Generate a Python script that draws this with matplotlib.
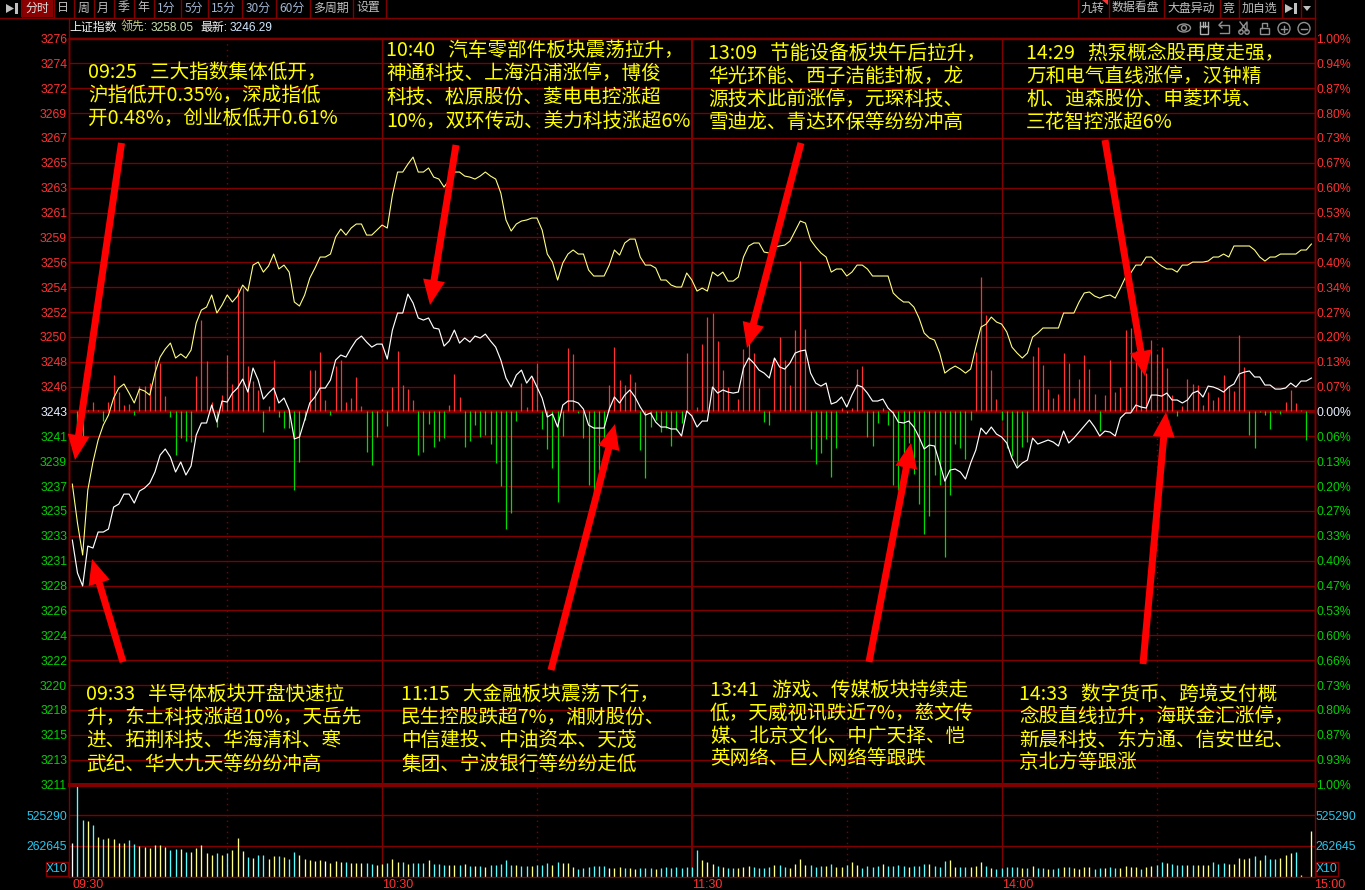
import matplotlib
matplotlib.use('Agg')
import matplotlib.pyplot as plt
from matplotlib.patches import Rectangle, Circle, Ellipse, Polygon

plt.rcParams['font.family'] = ['Noto Sans CJK SC', 'DejaVu Sans']

# 上证指数 分时 (index = minutes since 09:30)
prev_close = 3243.0
close_span = 32.43

lead_line = [
    3236.69, 3233.30, 3230.52, 3236.17, 3238.61, 3240.52, 3241.82, 3242.69, 3244.17, 3245.04,
    3245.39, 3244.60, 3243.74, 3244.95, 3244.78, 3244.43, 3246.34, 3247.73, 3248.43, 3248.95,
    3247.65, 3248.00, 3247.65, 3248.34, 3250.69, 3251.82, 3252.08, 3253.13, 3251.56, 3252.26,
    3253.13, 3252.52, 3253.04, 3253.99, 3253.47, 3255.73, 3255.99, 3255.12, 3255.65, 3256.69,
    3255.39, 3255.73, 3255.12, 3252.52, 3252.17, 3253.13, 3254.60, 3255.47, 3256.43, 3256.43,
    3256.69, 3258.17, 3258.86, 3258.34, 3258.95, 3259.30, 3259.30, 3258.34, 3258.34, 3258.78,
    3259.21, 3258.95, 3261.82, 3263.82, 3263.82, 3264.51, 3265.12, 3263.82, 3263.82, 3264.17,
    3263.38, 3263.21, 3262.51, 3263.12, 3263.82, 3263.82, 3263.47, 3263.38, 3263.21, 3263.47,
    3263.82, 3263.47, 3263.21, 3261.99, 3259.65, 3258.69, 3259.30, 3259.56, 3259.65, 3259.82,
    3259.82, 3258.78, 3256.69, 3255.99, 3254.43, 3255.91, 3256.69, 3257.04, 3256.69, 3256.69,
    3255.30, 3254.78, 3254.78, 3254.78, 3255.73, 3257.04, 3256.60, 3257.65, 3257.99, 3257.99,
    3256.43, 3255.73, 3255.73, 3255.47, 3254.43, 3254.43, 3253.99, 3253.82, 3253.82, 3255.04,
    3254.43, 3253.47, 3253.73, 3253.47, 3255.12, 3254.78, 3255.12, 3254.34, 3254.34, 3254.69,
    3256.43, 3257.39, 3257.65, 3257.65, 3256.86, 3256.78, 3257.30, 3257.39, 3257.47, 3257.82,
    3258.69, 3259.56, 3259.38, 3257.91, 3257.30, 3256.78, 3256.43, 3255.12, 3255.39, 3255.39,
    3254.78, 3255.12, 3255.73, 3255.73, 3255.39, 3254.78, 3254.78, 3254.78, 3254.78, 3253.30,
    3252.86, 3252.52, 3252.52, 3252.08, 3251.13, 3249.82, 3249.39, 3249.21, 3248.08, 3246.34,
    3246.69, 3246.95, 3246.69, 3246.34, 3246.69, 3248.60, 3250.34, 3250.60, 3251.21, 3250.78,
    3250.60, 3249.91, 3248.60, 3248.08, 3247.65, 3248.08, 3249.47, 3249.82, 3250.26, 3250.26,
    3250.26, 3250.26, 3251.56, 3251.56, 3251.56, 3252.52, 3253.30, 3253.39, 3253.04, 3252.86,
    3253.04, 3253.13, 3252.86, 3253.73, 3254.69, 3255.04, 3255.73, 3255.73, 3256.43, 3256.43,
    3255.99, 3255.65, 3255.39, 3255.39, 3255.12, 3255.73, 3255.73, 3255.99, 3255.99, 3255.99,
    3256.08, 3256.43, 3256.43, 3256.69, 3256.43, 3257.39, 3257.39, 3257.39, 3257.39, 3257.04,
    3256.43, 3256.08, 3256.43, 3256.43, 3256.69, 3256.69, 3256.69, 3256.69, 3257.04, 3257.04,
    3257.56,
]

price_line = [
    3231.82, 3228.96, 3227.83, 3231.30, 3231.13, 3232.52, 3232.52, 3232.78, 3234.69, 3234.95,
    3235.82, 3235.82, 3235.04, 3236.08, 3236.35, 3236.78, 3237.74, 3239.21, 3239.74, 3239.04,
    3237.74, 3238.61, 3237.48, 3238.26, 3240.95, 3242.00, 3242.00, 3243.56, 3242.08, 3243.91,
    3243.82, 3244.60, 3245.04, 3245.82, 3244.69, 3246.78, 3245.74, 3244.08, 3244.60, 3245.04,
    3243.74, 3244.17, 3243.13, 3240.61, 3240.78, 3242.26, 3243.74, 3244.26, 3245.04, 3245.04,
    3245.74, 3247.47, 3247.91, 3247.73, 3248.52, 3249.21, 3249.56, 3249.04, 3248.60, 3248.86,
    3248.86, 3247.56, 3250.08, 3251.56, 3251.56, 3253.21, 3252.43, 3251.13, 3250.95, 3251.13,
    3250.26, 3250.17, 3248.69, 3249.13, 3250.08, 3248.95, 3249.39, 3249.04, 3249.56, 3249.39,
    3249.73, 3249.13, 3248.60, 3247.47, 3245.91, 3245.13, 3246.17, 3246.60, 3245.47, 3246.08,
    3245.13, 3244.17, 3242.52, 3242.78, 3241.65, 3243.56, 3243.91, 3243.91, 3243.74, 3243.21,
    3241.82, 3241.56, 3241.56, 3241.56, 3243.21, 3244.26, 3243.74, 3244.43, 3244.87, 3244.26,
    3243.39, 3242.69, 3242.87, 3242.08, 3241.65, 3241.65, 3241.48, 3241.48, 3240.87, 3243.04,
    3242.61, 3241.65, 3242.17, 3242.17, 3245.13, 3244.60, 3244.87, 3244.69, 3244.60, 3244.69,
    3246.78, 3247.65, 3247.21, 3246.60, 3246.34, 3245.91, 3247.65, 3246.87, 3246.69, 3247.21,
    3248.08, 3248.26, 3248.34, 3246.34, 3245.47, 3245.21, 3245.47, 3243.65, 3243.82, 3244.26,
    3243.39, 3244.43, 3245.30, 3245.13, 3244.60, 3243.91, 3243.91, 3244.08, 3243.30, 3242.87,
    3242.08, 3242.00, 3242.17, 3241.65, 3240.78, 3239.74, 3240.08, 3240.00, 3238.52, 3236.95,
    3237.91, 3238.00, 3237.74, 3237.13, 3238.52, 3239.65, 3241.56, 3241.04, 3241.65, 3241.04,
    3240.78, 3240.26, 3238.95, 3238.08, 3238.52, 3238.78, 3240.69, 3240.17, 3240.34, 3240.52,
    3240.34, 3240.00, 3241.30, 3240.26, 3240.69, 3241.21, 3241.74, 3242.26, 3241.65, 3240.87,
    3241.30, 3241.21, 3240.87, 3242.43, 3242.87, 3242.87, 3243.56, 3243.39, 3243.30, 3244.43,
    3244.43, 3244.34, 3244.60, 3244.00, 3244.00, 3243.74, 3244.00, 3244.60, 3244.78, 3244.26,
    3245.21, 3245.13, 3244.95, 3244.69, 3245.13, 3245.39, 3246.26, 3246.43, 3246.52, 3246.00,
    3246.00, 3245.30, 3245.30, 3244.95, 3244.95, 3245.04, 3245.47, 3245.13, 3245.65, 3245.65,
    3245.91,
]

# red / green strength bars
strength = [
    0, -15, -26, 1, 9, 1, -10, 9, 36, 19,
    6, 7, -4, 25, 25, 28, 51, 48, 15, -6,
    -44, -27, -30, -31, 35, 91, 50, 9, -16, 16,
    56, 27, 123, 123, 45, 30, 21, -21, 5, 51,
    -6, -17, -17, -79, -51, -9, 41, 41, 59, 11,
    -4, 45, 51, 9, 13, 34, 5, -41, -54, -26,
    2, -15, 24, 60, 26, 22, 11, -44, -41, -13,
    -36, -30, -27, 6, 37, 14, -36, -30, -14, -26,
    -24, -33, -52, -75, -118, -102, -10, 28, 4, 34,
    48, -18, -38, -57, -91, -25, 63, 57, -2, -27,
    -74, -85, -59, -29, 26, 64, 31, 26, 37, 29,
    -39, -67, -16, -9, -21, -17, -35, -19, -12, 58,
    0, 4, 67, 94, 98, 70, 41, 24, 1, 12,
    62, 68, 58, 23, -11, -14, 53, 74, 51, 26,
    81, 150, 82, -38, -53, -42, -28, -66, -37, 3,
    -2, 3, 42, 45, -26, -35, -12, 3, -14, -74,
    -79, -50, -32, -63, -93, -123, -105, -64, -74, -146,
    -84, -33, -37, -48, -9, 59, 134, 96, 41, 12,
    -9, -37, -45, -55, -36, -31, 55, 64, 46, 22,
    13, 17, 58, 48, 13, 32, 56, 42, 17, -20,
    16, 51, 19, 24, 81, 83, 60, 48, 38, 71,
    57, 64, 43, 16, -5, 5, 32, 27, 26, 6,
    19, 11, 14, 36, 25, 20, 76, 44, -24, -37,
    -1, -4, -18, -1, -3, 9, 21, 8, 1, -29,
    0,
]

# volume, thousands
volume = [
    284, 784, 486, 477, 443, 341, 324, 333, 324, 290,
    290, 315, 281, 264, 256, 247, 273, 273, 256, 230,
    239, 239, 213, 213, 247, 273, 205, 188, 205, 188,
    205, 230, 333, 222, 171, 162, 188, 188, 153, 179,
    179, 171, 153, 213, 188, 153, 145, 136, 145, 136,
    119, 136, 128, 128, 119, 119, 119, 119, 111, 102,
    111, 119, 153, 128, 128, 111, 119, 119, 119, 145,
    111, 111, 102, 102, 102, 102, 111, 94, 94, 94,
    85, 102, 102, 111, 145, 102, 102, 94, 94, 94,
    102, 102, 119, 102, 128, 119, 119, 85, 68, 77,
    85, 94, 94, 94, 77, 77, 85, 77, 77, 68,
    77, 77, 77, 68, 77, 85, 77, 85, 77, 85,
    85, 230, 145, 128, 111, 94, 85, 77, 77, 77,
    85, 94, 85, 77, 77, 85, 102, 102, 85, 77,
    111, 153, 102, 102, 85, 94, 94, 111, 85, 85,
    102, 128, 102, 77, 94, 85, 94, 111, 94, 94,
    102, 94, 85, 94, 94, 111, 111, 94, 85, 136,
    145, 85, 85, 85, 85, 94, 128, 94, 77, 68,
    77, 85, 85, 85, 77, 77, 94, 77, 77, 68,
    68, 77, 85, 85, 77, 68, 85, 85, 68, 77,
    77, 85, 77, 77, 94, 85, 85, 68, 85, 94,
    102, 128, 119, 111, 102, 102, 102, 102, 102, 102,
    102, 128, 111, 119, 111, 111, 162, 153, 162, 179,
    145, 188, 153, 153, 162, 188, 205, 213, 17, 0,
    392,
]

# y = up minute, c = down minute, w = flat
volume_dir = (
    'wccycycyyy' 'yccyyyyyyc' 'cycyyyyycy' 'cyyycyccyy' 'cyccyyyyyw' 'yyycyyyccy'
    'ycyycycccy' 'cccyycycyc' 'ycccccyccy' 'cccycyyycc' 'ccccwyycyy' 'cccycccccc'
    'ccyyycyccy' 'yyccccyccy' 'yyycccycyy' 'cyyccccycc' 'ccycccyccc' 'yyccyyycyc'
    'ccccycyccy' 'ccycyyyycc' 'yccyyyycyy' 'ccycccycyy' 'ycccyyyyyc' 'ycccyyycyy' 'y'
)

price_labels = ['3276', '3274', '3272', '3269', '3267', '3265', '3263', '3261', '3259', '3256',
                '3254', '3252', '3250', '3248', '3246', '3243', '3241', '3239', '3237', '3235',
                '3233', '3231', '3228', '3226', '3224', '3222', '3220', '3218', '3215', '3213', '3211']
pct_labels = ['1.00%', '0.94%', '0.87%', '0.80%', '0.73%', '0.67%', '0.60%', '0.53%', '0.47%', '0.40%',
              '0.34%', '0.27%', '0.20%', '0.13%', '0.07%', '0.00%', '0.06%', '0.13%', '0.20%', '0.27%',
              '0.33%', '0.40%', '0.47%', '0.53%', '0.60%', '0.66%', '0.73%', '0.80%', '0.87%', '0.93%', '1.00%']
time_ticks = [0, 60, 120, 180, 240.6]
time_labels = ['09:30', '10:30', '11:30', '14:00', '15:00']
volume_ticks = [262.645, 525.29]
volume_labels = ['262645', '525290']

# (x, first baseline row, lines)
notes = [
    (88, 72, 23, ['09:25   三大指数集体低开，', '沪指低开0.35%，深成指低', '开0.48%，创业板低开0.61%']),
    (386, 50, 23.7, ['10:40   汽车零部件板块震荡拉升，', '神通科技、上海沿浦涨停，博俊',
                     '科技、松原股份、菱电电控涨超', '10%，双环传动、美力科技涨超6%']),
    (708, 53, 23, ['13:09   节能设备板块午后拉升，', '华光环能、西子洁能封板，龙',
                   '源技术此前涨停，元琛科技、', '雪迪龙、青达环保等纷纷冲高']),
    (1026, 53, 23, ['14:29   热泵概念股再度走强，', '万和电气直线涨停，汉钟精',
                    '机、迪森股份、申菱环境、', '三花智控涨超6%']),
    (86, 694, 23.4, ['09:33   半导体板块开盘快速拉', '升，东土科技涨超10%，天岳先',
                     '进、拓荆科技、华海清科、寒', '武纪、华大九天等纷纷冲高']),
    (401, 694, 23.4, ['11:15   大金融板块震荡下行，', '民生控股跌超7%，湘财股份、',
                      '中信建投、中油资本、天茂', '集团、宁波银行等纷纷走低']),
    (710, 690, 23, ['13:41   游戏、传媒板块持续走', '低，天威视讯跌近7%，慈文传',
                    '媒、北京文化、中广天择、恺', '英网络、巨人网络等跟跌']),
    (1019, 694, 23, ['14:33   数字货币、跨境支付概', '念股直线拉升，海联金汇涨停，',
                     '新晨科技、东方通、信安世纪、', '京北方等跟涨']),
]

# tail x, tail y, tip x, tip y
arrows = [
    (121.5, 143, 75, 460),
    (123, 662, 92, 559),
    (456, 145, 430, 305),
    (551, 670, 615, 424),
    (801, 143, 747, 348),
    (869, 662, 911, 443),
    (1105, 140, 1145, 376),
    (1143, 664, 1166, 412),
]

left_tabs = ['分时', '日', '周', '月', '季', '年', '1分', '5分', '15分', '30分', '60分', '多周期', '设置']
left_tab_edges = [21, 53, 73, 93, 113, 133, 153, 180, 207, 241, 275, 309, 352, 385]
right_tabs = ['九转', '数据看盘', '大盘异动', '竞', '加自选']
right_tab_edges = [1077, 1108, 1163, 1219, 1238, 1281]

BG = '#000000'
GRID = '#800000'
RED = '#FF3232'
GREEN = '#00D200'
CYAN = '#28C8F0'
GREY = '#C0C0C0'
W, H = 1365, 890
X0, X1 = 68.5, 1314.5
MAIN_TOP, MAIN_BOT, VOL_BOT = 38.5, 784.5, 876.5
XLIM = (-0.74, 240.6)
latin = ['Liberation Sans', 'DejaVu Sans']

fig = plt.figure(figsize=(W / 100, H / 100), dpi=100, facecolor=BG)


def add_panel(top, bottom):
    return fig.add_axes([X0 / W, 1 - bottom / H, (X1 - X0) / W, (bottom - top) / H])


minutes = list(range(len(price_line)))

ax = add_panel(MAIN_TOP, MAIN_BOT)
ax_pct = ax.twinx()
ax_bars = ax.twinx()
ax_pct.set_zorder(1)
ax_bars.set_zorder(2)
ax.set_zorder(3)
for a in (ax, ax_pct, ax_bars):
    a.patch.set_visible(False)
    a.set_xlim(*XLIM)
    for s in a.spines.values():
        s.set_color(GRID)
        s.set_linewidth(1.0)
    a.spines['bottom'].set_linewidth(2)
ax.set_ylim(prev_close - close_span, prev_close + close_span)
ax_pct.set_ylim(-1, 1)
ax_bars.set_ylim(-373, 373)

# grid lines live on the bottom axes so the bars sit on top
n = len(price_labels)
pct_ticks = [1 - 2 * k / (n - 1) for k in range(n)]
ax_pct.set_yticks(pct_ticks, pct_labels, fontfamily=latin, fontsize=8.8)
ax_pct.tick_params(axis='y', length=0, pad=1.5)
ax_pct.grid(axis='y', color=GRID, linewidth=0.95)
ax_pct.axhline(0, color=GRID, linewidth=2.2)
for m in [60, 180]:
    ax_pct.axvline(m, color=GRID, linewidth=1.0)
ax_pct.axvline(120, color=GRID, linewidth=1.5)
for m in [30, 90, 150, 210]:
    ax_pct.axvline(m, color=GRID, linewidth=1.0, linestyle=(0, (1, 3)))

price_ticks = [prev_close + close_span * p for p in pct_ticks]
ax.set_yticks(price_ticks, price_labels, fontfamily=latin, fontsize=8.8)
ax.tick_params(axis='y', length=0, pad=1)
ax.set_xticks([])
ax_pct.set_xticks([])
ax_bars.set_xticks([])
ax_bars.set_yticks([])
for k in range(n):
    colour = RED if k < 15 else (GREEN if k > 15 else '#E8F0FF')
    ax.get_yticklabels()[k].set_color(colour)
    ax_pct.get_yticklabels()[k].set_color(colour)

up = [(m, v) for m, v in zip(minutes, strength) if v > 0]
down = [(m, v) for m, v in zip(minutes, strength) if v < 0]
ax_bars.vlines([u[0] for u in up], 0, [u[1] for u in up], color=RED, linewidth=0.9)
ax_bars.vlines([d[0] for d in down], 0, [d[1] for d in down], color='#00DC00', linewidth=0.9)

ax.plot(minutes, lead_line, color='#FFFF80', linewidth=0.8)
ax.plot(minutes, price_line, color='#FFFFFF', linewidth=0.85)

# volume panel
ax_vol = add_panel(MAIN_BOT, VOL_BOT)
ax_vol.patch.set_visible(False)
ax_vol.set_xlim(*XLIM)
ax_vol.set_ylim(0, 788)
for s in ax_vol.spines.values():
    s.set_color(GRID)
    s.set_linewidth(1.0)
ax_vol.spines['top'].set_linewidth(2)
ax_vol.set_yticks(volume_ticks, volume_labels, fontfamily=latin, fontsize=8.8, color=CYAN)
ax_vol.tick_params(axis='y', length=0, pad=1, labelright=True)
ax_vol.set_xticks(time_ticks, time_labels, fontfamily=latin, fontsize=9, color=RED, ha='left')
ax_vol.tick_params(axis='x', length=0, pad=1.5)
for lbl in ax_vol.get_xticklabels():
    lbl.set_x(lbl.get_position()[0])
ax_vol.grid(axis='y', color=GRID, linewidth=1.0)
ax_vol.set_axisbelow(True)
for m in [60, 120, 180]:
    ax_vol.axvline(m, color=GRID, linewidth=1.5 if m == 120 else 1.0, zorder=1)
for m in [30, 90, 150, 210]:
    ax_vol.axvline(m, color=GRID, linewidth=1.0, linestyle=(0, (1, 3)), zorder=1)
dir_colours = {'y': '#FFFF80', 'c': '#55FFFF', 'w': '#FFFFFF'}
ax_vol.vlines(minutes, 0, volume, color=[dir_colours[d] for d in volume_dir], linewidth=0.95, zorder=2)

# toolbar, notes and arrows on a full-size overlay, in picture rows and columns
ui = fig.add_axes([0, 0, 1, 1], zorder=10)
ui.set_xlim(0, W)
ui.set_ylim(H, 0)
ui.axis('off')
ui.patch.set_visible(False)

ui.plot([0, W - 50], [17.5, 17.5], color=GRID, linewidth=1)
ui.plot([X0, X0], [17.5, MAIN_TOP], color=GRID, linewidth=1)
ui.plot([X1, X1], [0, MAIN_TOP], color=GRID, linewidth=1)
ui.add_patch(Rectangle((21, 0), 32, 17, color='#8B0000', linewidth=0))
for x in left_tab_edges + right_tab_edges + [1300]:
    ui.plot([x + 0.5, x + 0.5], [0, 17.5], color=GRID, linewidth=1)
for i, tab in enumerate(left_tabs):
    colour = '#E0E0E0' if i == 0 else ('#A0B4D0' if 6 <= i <= 10 else GREY)
    ui.text((left_tab_edges[i] + left_tab_edges[i + 1]) / 2, 8, tab, color=colour, fontsize=8.6,
            ha='center', va='center')
for i, tab in enumerate(right_tabs):
    ui.text((right_tab_edges[i] + right_tab_edges[i + 1]) / 2, 8, tab, color=GREY, fontsize=8.6,
            ha='center', va='center')

# arrow-to-bar icons and the small drop-down
ui.add_patch(Polygon([[6, 4], [14, 8.5], [6, 13]], color=GREY, linewidth=0))
ui.add_patch(Rectangle((15, 3), 3, 11, color=GREY, linewidth=0))
ui.add_patch(Polygon([[1285, 4], [1293, 8.5], [1285, 13]], color=GREY, linewidth=0))
ui.add_patch(Rectangle((1294, 3), 3, 11, color=GREY, linewidth=0))
ui.add_patch(Polygon([[1303, 6], [1311, 6], [1307, 11]], color=GREY, linewidth=0))
ui.add_patch(Polygon([[1102, 0], [1107.5, 0], [1107.5, 5]], color='#FF3030', linewidth=0))

# status row
status = [(69, '上证指数', '#F0F0F0'), (121, '领先:', '#C8D088'), (151, '3258.05', '#C8E0B0'),
          (200, '最新:', '#F0F0F0'), (230, '3246.29', '#D0E8FF')]
for x, label, colour in status:
    ui.text(x, 28, label, color=colour, fontsize=8.6, ha='left', va='center',
            fontfamily=['Liberation Sans', 'Noto Sans CJK SC'])

# chart tool icons
ICON = '#909090'
ui.add_patch(Ellipse((1184, 28), 13, 8, fill=False, edgecolor=ICON, linewidth=1))
ui.add_patch(Circle((1184, 28), 2.5, fill=False, edgecolor=ICON, linewidth=1))
ui.add_patch(Rectangle((1200, 26), 8, 8, fill=False, edgecolor='#B0B0B0', linewidth=1))
for hx in [1200, 1202.7, 1205.4, 1208]:
    ui.plot([hx, hx], [22, 27], color='#B0B0B0', linewidth=1)
ui.plot([1219, 1229, 1229, 1220], [25, 25, 33, 33], color=ICON, linewidth=1)
ui.plot([1222, 1219, 1222], [22, 25, 28], color=ICON, linewidth=1)
ui.plot([1240, 1247, 1247, 1240], [22, 31, 22, 31], color=ICON, linewidth=1)
ui.add_patch(Circle((1241, 32), 2.2, fill=False, edgecolor=ICON, linewidth=1))
ui.add_patch(Circle((1247, 32), 2.2, fill=False, edgecolor=ICON, linewidth=1))
ui.add_patch(Rectangle((1260, 28), 9, 6, fill=False, edgecolor=ICON, linewidth=1))
ui.plot([1262, 1262, 1267, 1267], [28, 23, 23, 26], color=ICON, linewidth=1)
ui.add_patch(Circle((1284, 28.5), 6, fill=False, edgecolor=ICON, linewidth=1))
ui.plot([1281, 1287], [28.5, 28.5], color=ICON, linewidth=1)
ui.plot([1284, 1284], [25.5, 31.5], color=ICON, linewidth=1)
ui.add_patch(Circle((1304, 28.5), 6, fill=False, edgecolor=ICON, linewidth=1))
ui.plot([1301, 1307], [28.5, 28.5], color=ICON, linewidth=1)

# X10 boxes
for bx in (45.5, 1315.5):
    ui.add_patch(Rectangle((bx, 861.5), 22, 14.5, fill=False, edgecolor=GRID, linewidth=1))
    ui.text(bx + 11, 869, 'X10', color=CYAN, fontsize=8.8, ha='center', va='center', fontfamily=latin)

for tx, ty, hx, hy in arrows:
    ui.arrow(tx, ty, hx - tx, hy - ty, width=7, head_width=22, head_length=25,
             length_includes_head=True, color='#FF0000', linewidth=0)

for x, y, step, lines in notes:
    for i, line in enumerate(lines):
        ui.text(x, y + i * step, line, color='#FFFF00', fontsize=14.1, ha='left', va='center')

fig.savefig('out.png', dpi=100, facecolor=BG)
